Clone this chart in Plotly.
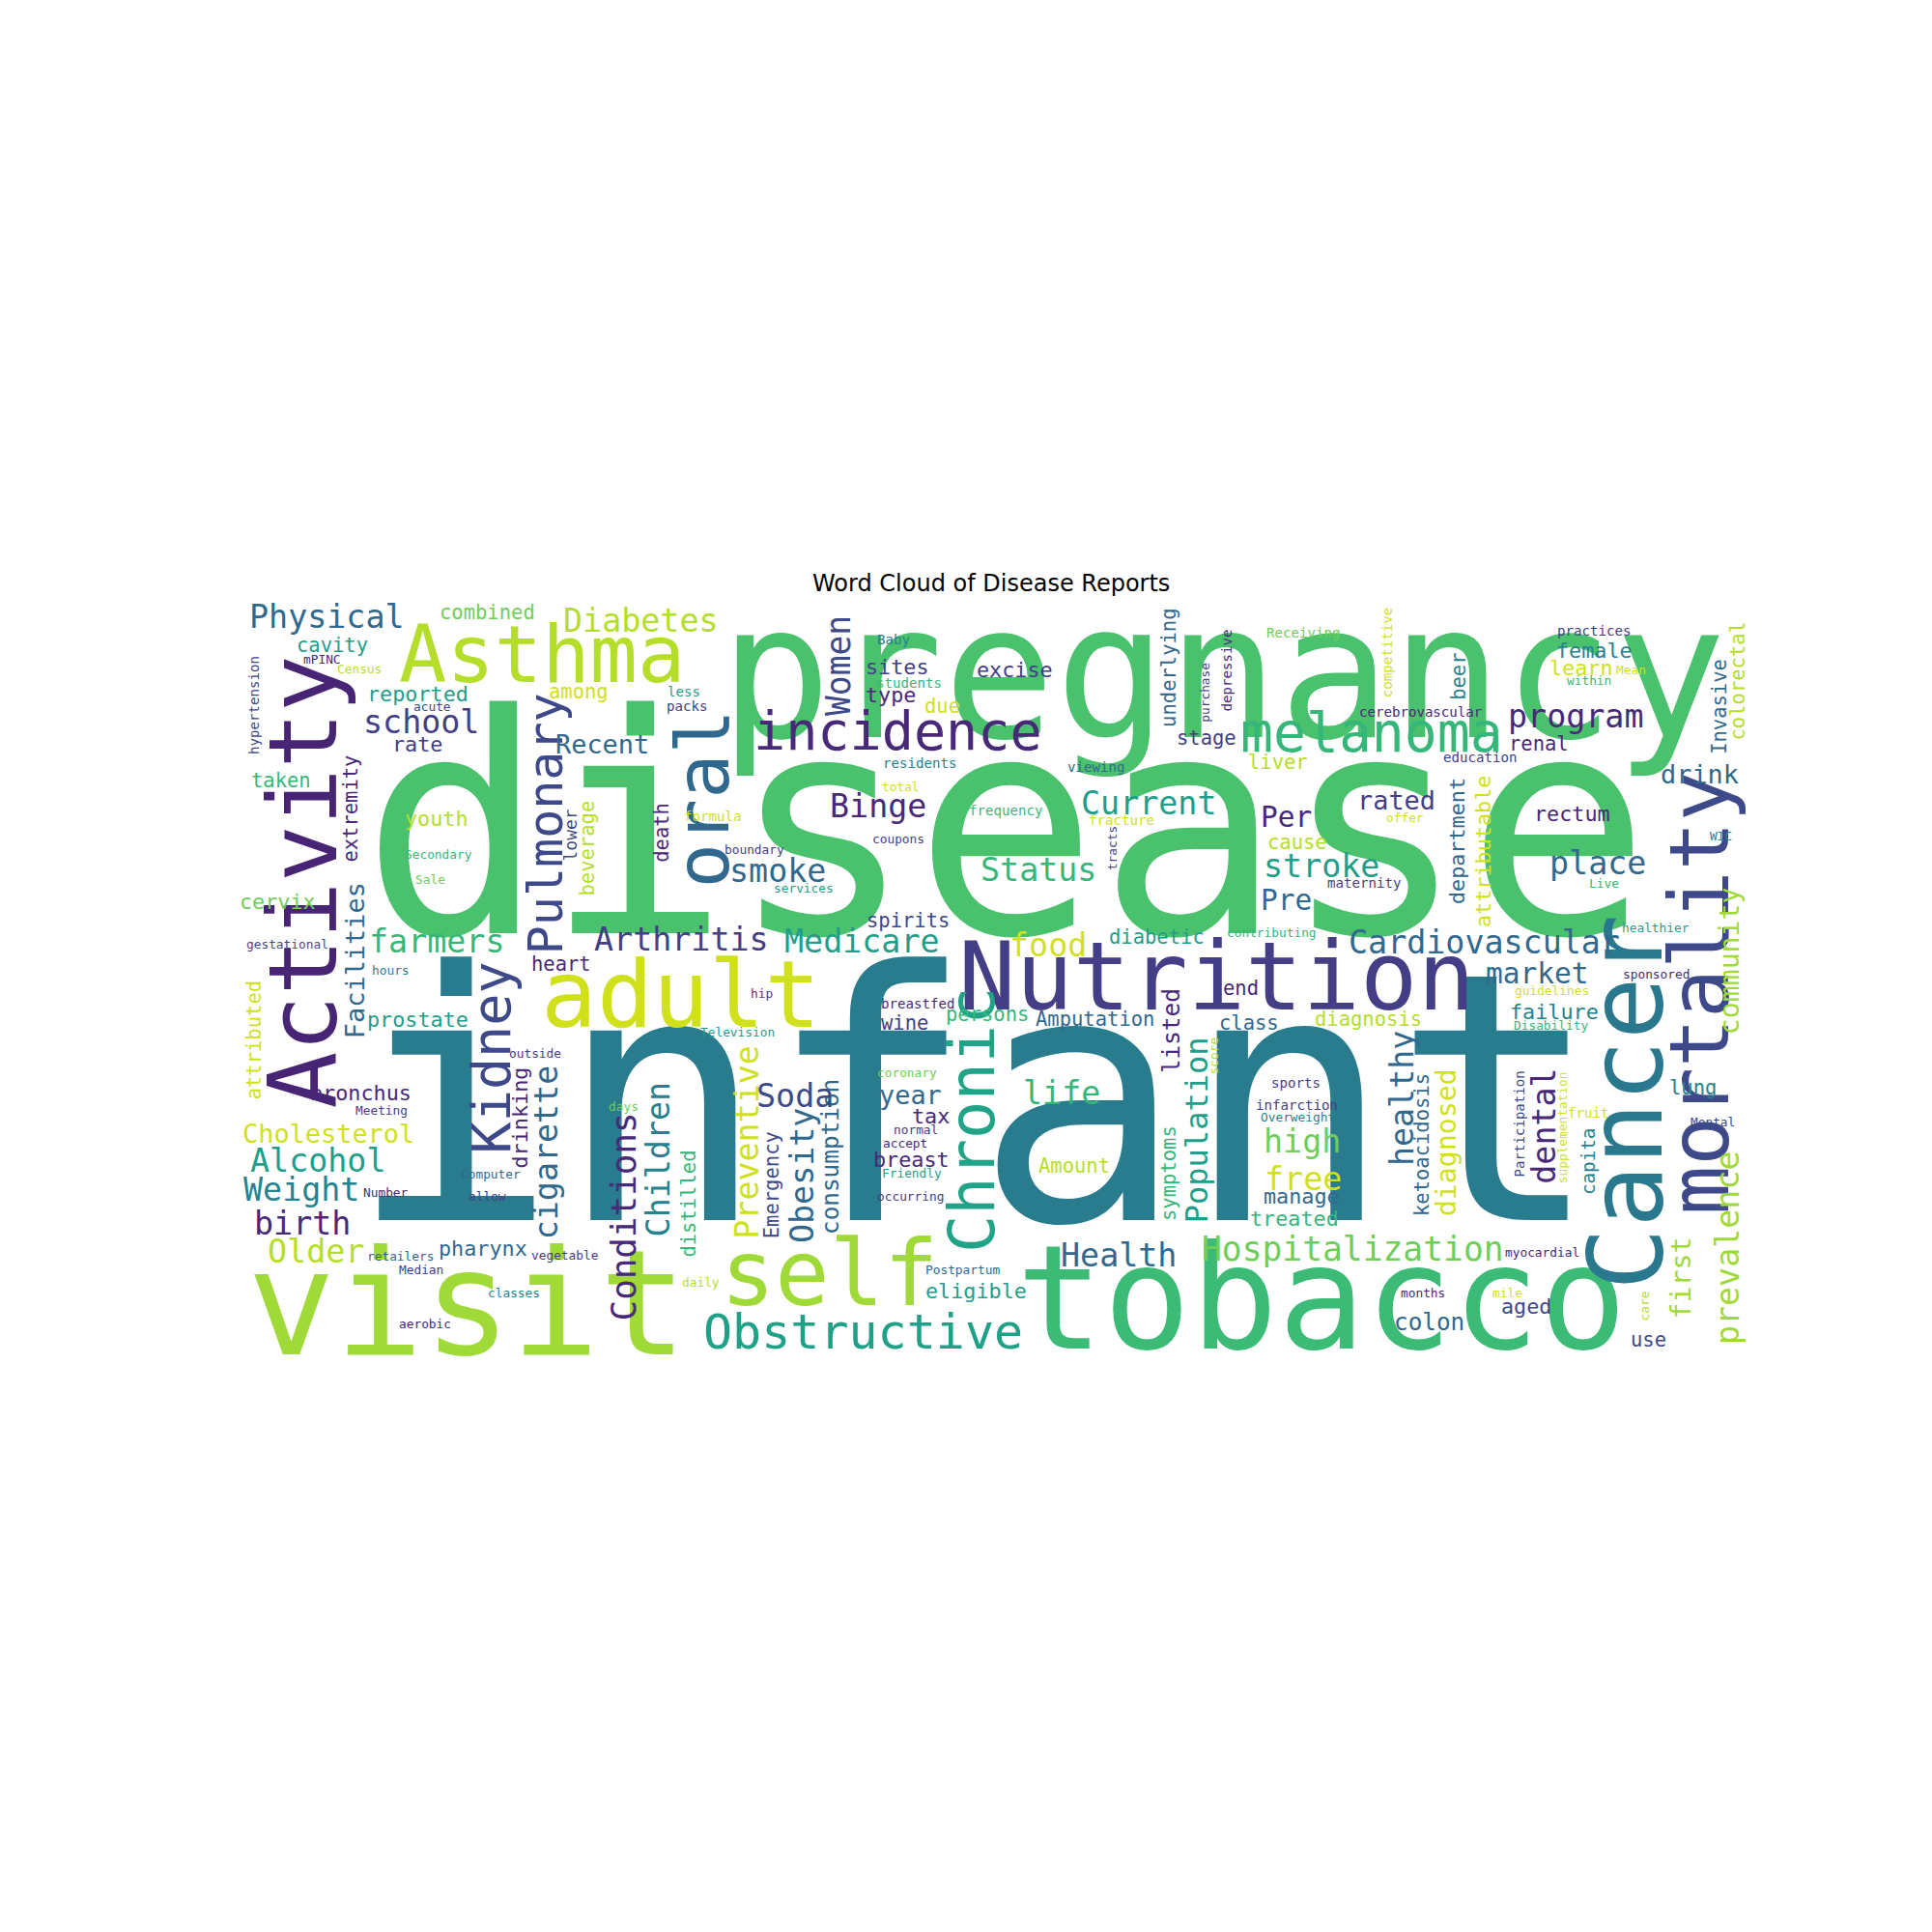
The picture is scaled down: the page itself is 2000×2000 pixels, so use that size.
import plotly.graph_objects as go

S = 2000 / 1560.0
DX, DY = -9, -8

WORDS = ["disease", "infant", "pregnancy", "tobacco", "visit", "Nutrition", "Activity", "Asthma", "adult", "self",
         "Cancer", "mortality", "incidence", "melanoma", "oral", "Obstructive", "Chronic", "Kidney", "Pulmonary", "Hospitalization",
         "Cardiovascular", "Physical", "Diabetes", "combined", "Status", "Current", "Binge", "smoke", "Arthritis", "Medicare",
         "food", "farmers", "school", "reported", "rate", "Recent", "cavity", "mPINC", "Census", "hypertension",
         "acute", "among", "less", "packs", "Women", "Baby", "sites", "students", "type", "due",
         "excise", "underlying", "purchase", "depressive", "Receiving", "competitive", "beer", "practices", "female", "learn",
         "Mean", "within", "Invasive", "colorectal", "cerebrovascular", "program", "renal", "education", "stage", "liver",
         "viewing", "residents", "total", "frequency", "fracture", "coupons", "formula", "boundary", "services", "tracts",
         "drink", "rated", "offer", "rectum", "WIC", "Per", "cause", "stroke", "place", "Live",
         "maternity", "Pre", "department", "attributable", "healthier", "contributing", "diabetic", "community", "taken", "youth",
         "Secondary", "Sale", "extremity", "Facilities", "lower", "beverage", "death", "cervix", "gestational", "hours",
         "heart", "prostate", "spirits", "hip", "Television", "breastfed", "wine", "persons", "Amputation", "listed",
         "end", "class", "diagnosis", "market", "failure", "guidelines", "sponsored", "Disability", "attributed", "outside",
         "bronchus", "Meeting", "Cholesterol", "Alcohol", "Weight", "birth", "Computer", "Number", "allow", "Older",
         "retailers", "Median", "pharynx", "vegetable", "aerobic", "classes", "daily", "drinking", "cigarette", "days",
         "Conditions", "Children", "distilled", "Preventive", "Emergency", "Obesity", "consumption", "Soda", "coronary", "year",
         "tax", "normal", "accept", "breast", "Friendly", "occurring", "life", "Amount", "symptoms", "Population",
         "score", "Health", "Postpartum", "eligible", "sports", "infarction", "Overweight", "high", "free", "manage",
         "treated", "healthy", "ketoacidosis", "diagnosed", "dental", "Participation", "supplementation", "fruit", "capita", "lung",
         "Mental", "first", "prevalence", "myocardial", "months", "mile", "aged", "colon", "care", "use"]

X = [815, 790, 990, 1070, 380, 985, 245, 440, 552, 672,
     1312, 1372, 728, 1110, 567, 700, 785, 397, 440, 1095,
     1201, 267, 520, 396, 841, 930, 712, 631, 553, 699,
     849, 355, 343, 340, 340, 489, 271, 263, 293, 205,
     352, 470, 555, 557, 677, 724, 727, 737, 722, 764,
     822, 944, 973, 990, 1055, 1120, 1178, 1290, 1290, 1280,
     1320, 1286, 1388, 1403, 1150, 1275, 1245, 1198, 977, 1035,
     888, 745, 730, 815, 908, 728, 578, 612, 652, 898,
     1375, 1130, 1137, 1272, 1392, 1041, 1050, 1070, 1293, 1298,
     1104, 1041, 1177, 1197, 1340, 1030, 937, 1396, 230, 355,
     357, 350, 283, 287, 460, 474, 534, 227, 235, 318,
     456, 340, 736, 618, 598, 744, 733, 800, 887, 946,
     1005, 1011, 1108, 1244, 1258, 1256, 1340, 1255, 205, 435,
     294, 311, 268, 259, 246, 247, 399, 314, 396, 258,
     326, 343, 393, 459, 346, 418, 569, 420, 441, 506,
     503, 531, 556, 603, 623, 648, 670, 645, 735, 738,
     754, 742, 734, 739, 739, 738, 860, 870, 944, 966,
     980, 906, 780, 791, 1049, 1050, 1051, 1054, 1055, 1054,
     1048, 1132, 1148, 1168, 1247, 1227, 1262, 1285, 1283, 1370,
     1386, 1357, 1395, 1248, 1152, 1220, 1235, 1157, 1328, 1334]

Y = [670, 890, 545, 1050, 1055, 790, 715, 530, 805, 1030,
     893, 805, 592, 593, 648, 1077, 907, 857, 668, 1010,
     763, 500, 503, 496, 704, 650, 653, 705, 760, 762,
     765, 762, 585, 562, 603, 603, 523, 534, 542, 572,
     572, 560, 560, 572, 540, 518, 540, 553, 563, 572,
     543, 542, 562, 544, 513, 530, 549, 511, 527, 541,
     543, 551, 573, 553, 577, 580, 602, 613, 598, 617,
     621, 618, 637, 656, 664, 679, 661, 688, 719, 688,
     627, 648, 662, 659, 677, 662, 682, 701, 699, 715,
     715, 729, 682, 690, 751, 755, 758, 779, 632, 663,
     692, 712, 656, 778, 677, 688, 675, 730, 764, 785,
     780, 825, 745, 804, 835, 812, 828, 821, 825, 835,
     800, 828, 825, 788, 819, 802, 788, 830, 843, 852,
     884, 898, 917, 939, 962, 990, 950, 965, 968, 1012,
     1016, 1027, 1010, 1015, 1071, 1046, 1037, 905, 933, 895,
     985, 939, 975, 925, 960, 952, 937, 887, 868, 886,
     903, 914, 925, 938, 949, 968, 884, 943, 950, 915,
     855, 1015, 1027, 1044, 876, 894, 904, 923, 954, 968,
     986, 890, 927, 925, 912, 910, 913, 900, 941, 880,
     908, 1035, 1010, 1013, 1046, 1046, 1057, 1069, 1057, 1084]

SIZE = [247, 280, 150, 117, 118, 77, 76, 64, 75, 73,
        84, 66, 43, 44, 60, 39, 51, 43, 39, 27,
        26, 26, 26, 16, 26, 26, 26, 26, 26, 26,
        26, 26, 26, 17, 17, 21, 16, 10, 10, 11,
        10, 16, 11, 11, 27, 11, 17, 11, 17, 16,
        17, 16, 10, 11, 11, 11, 16, 11, 17, 17,
        10, 10, 16, 16, 11, 26, 16, 11, 16, 16,
        11, 11, 10, 11, 11, 10, 11, 10, 10, 10,
        21, 21, 10, 17, 10, 23, 16, 26, 26, 10,
        11, 23, 17, 17, 10, 10, 16, 22, 16, 17,
        10, 10, 16, 21, 14, 16, 16, 17, 10, 10,
        16, 17, 16, 10, 10, 11, 16, 16, 16, 19,
        16, 16, 16, 23, 17, 10, 10, 10, 16, 10,
        17, 10, 21, 26, 26, 26, 10, 10, 10, 26,
        10, 10, 17, 10, 10, 10, 10, 17, 26, 10,
        28, 26, 16, 26, 16, 26, 19, 26, 10, 21,
        17, 10, 10, 17, 10, 10, 26, 16, 16, 25,
        10, 26, 10, 17, 11, 11, 10, 26, 26, 17,
        17, 26, 16, 22, 26, 11, 10, 11, 15, 16,
        10, 22, 26, 10, 10, 10, 17, 19, 10, 16]

COLOR = ["#4ac16d", "#287c8e", "#4ac16d", "#3bbb75", "#a0da39", "#433e85", "#482475", "#b5de2b", "#d0e11c", "#a0da39",
         "#2a788e", "#3e4989", "#482878", "#35b779", "#31688e", "#1fa187", "#20a386", "#3e4989", "#3e4989", "#6ece58",
         "#31688e", "#31688e", "#b5de2b", "#6ece58", "#35b779", "#1f9e89", "#482878", "#31688e", "#433e85", "#1f9e89",
         "#d0e11c", "#35b779", "#433e85", "#1f9e89", "#433e85", "#31688e", "#1f9e89", "#482878", "#b5de2b", "#3e4989",
         "#433e85", "#d0e11c", "#1f9e89", "#433e85", "#3e4989", "#26828e", "#433e85", "#35b779", "#482878", "#d0e11c",
         "#433e85", "#31688e", "#433e85", "#482878", "#6ece58", "#d0e11c", "#26828e", "#433e85", "#26828e", "#d0e11c",
         "#d0e11c", "#35b779", "#31688e", "#b5de2b", "#482878", "#482878", "#482878", "#433e85", "#433e85", "#b5de2b",
         "#31688e", "#26828e", "#d0e11c", "#35b779", "#d0e11c", "#433e85", "#d0e11c", "#433e85", "#1f9e89", "#433e85",
         "#31688e", "#433e85", "#d0e11c", "#482878", "#26828e", "#482878", "#b5de2b", "#1f9e89", "#31688e", "#35b779",
         "#433e85", "#31688e", "#31688e", "#d0e11c", "#1f9e89", "#35b779", "#1f9e89", "#a0da39", "#35b779", "#b5de2b",
         "#35b779", "#6ece58", "#482878", "#31688e", "#3e4989", "#b5de2b", "#482878", "#6ece58", "#3e4989", "#26828e",
         "#482878", "#1f9e89", "#3e4989", "#433e85", "#1f9e89", "#482878", "#433e85", "#35b779", "#31688e", "#482878",
         "#482878", "#31688e", "#b5de2b", "#31688e", "#26828e", "#d0e11c", "#482878", "#35b779", "#d0e11c", "#433e85",
         "#482878", "#433e85", "#d0e11c", "#1f9e89", "#26828e", "#482878", "#31688e", "#482878", "#433e85", "#b5de2b",
         "#31688e", "#433e85", "#31688e", "#433e85", "#482878", "#26828e", "#b5de2b", "#482878", "#31688e", "#6ece58",
         "#482878", "#26828e", "#35b779", "#d0e11c", "#3e4989", "#31688e", "#31688e", "#3e4989", "#6ece58", "#31688e",
         "#482878", "#433e85", "#482878", "#482878", "#1f9e89", "#433e85", "#35b779", "#b5de2b", "#35b779", "#1f9e89",
         "#b5de2b", "#31688e", "#31688e", "#1f9e89", "#433e85", "#433e85", "#26828e", "#6ece58", "#d0e11c", "#31688e",
         "#35b779", "#31688e", "#31688e", "#d0e11c", "#482878", "#3e4989", "#d0e11c", "#d0e11c", "#26828e", "#26828e",
         "#3e4989", "#a0da39", "#a0da39", "#482878", "#482878", "#d0e11c", "#3e4989", "#31688e", "#b5de2b", "#3e4989"]

VERTICAL = {"Activity", "Cancer", "mortality", "oral", "Chronic", "Kidney", "Pulmonary", "hypertension", "Women",
            "underlying", "purchase", "depressive", "competitive", "beer", "Invasive", "colorectal", "tracts",
            "department", "attributable", "community", "extremity", "Facilities", "lower", "beverage", "death",
            "listed", "attributed", "drinking", "cigarette", "Conditions", "Children", "distilled", "Preventive",
            "Emergency", "Obesity", "consumption", "symptoms", "Population", "score", "healthy", "ketoacidosis",
            "diagnosed", "dental", "Participation", "supplementation", "capita", "first", "prevalence", "care"}

TITLE = "Word Cloud of Disease Reports"

fig = go.Figure()
fig.add_trace(go.Scatter(x=[0, 1560], y=[0, 1560], mode="markers", marker=dict(opacity=0), hoverinfo="skip"))

anns = []
for w, x, y, s, c in zip(WORDS, X, Y, SIZE, COLOR):
    vert = w in VERTICAL
    anns.append(dict(x=x + (DY * 0 if vert else DX) - (0 if not vert else 6), y=y + (DY if not vert else DX),
                     xref="x", yref="y", text=w, showarrow=False,
                     xanchor="center", yanchor="middle",
                     textangle=-90 if vert else 0,
                     font=dict(family="DejaVu Sans Mono", size=s * S, color=c)))
anns.append(dict(x=803 + DX, y=473 + DY, xref="x", yref="y", text=TITLE, showarrow=False,
                 xanchor="center", yanchor="middle",
                 font=dict(family="DejaVu Sans", size=24, color="black")))

fig.update_layout(width=2000, height=2000, margin=dict(l=0, r=0, t=0, b=0),
                  paper_bgcolor="white", plot_bgcolor="white", showlegend=False,
                  annotations=anns,
                  xaxis=dict(range=[0, 1560], visible=False, fixedrange=True),
                  yaxis=dict(range=[1560, 0], visible=False, fixedrange=True))
fig.write_html("out.html")
